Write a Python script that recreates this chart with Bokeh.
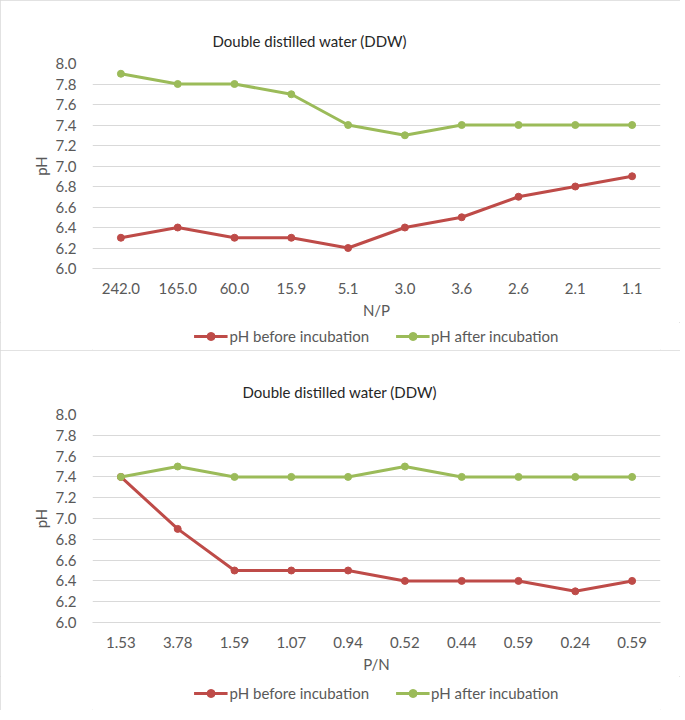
from bokeh.plotting import figure
from bokeh.layouts import column
from bokeh.models import FixedTicker, Range1d, PrintfTickFormatter
from bokeh.embed import file_html
from bokeh.resources import INLINE

# ---- data ----
title_text = "Double distilled water (DDW)"
series_names = ["pH before incubation", "pH after incubation"]
np_labels = ["242.0", "165.0", "60.0", "15.9", "5.1", "3.0", "3.6", "2.6", "2.1", "1.1"]
np_before = [6.3, 6.4, 6.3, 6.3, 6.2, 6.4, 6.5, 6.7, 6.8, 6.9]
np_after = [7.9, 7.8, 7.8, 7.7, 7.4, 7.3, 7.4, 7.4, 7.4, 7.4]

pn_labels = ["1.53", "3.78", "1.59", "1.07", "0.94", "0.52", "0.44", "0.59", "0.24", "0.59"]
pn_before = [7.4, 6.9, 6.5, 6.5, 6.5, 6.4, 6.4, 6.4, 6.3, 6.4]
pn_after = [7.4, 7.5, 7.4, 7.4, 7.4, 7.5, 7.4, 7.4, 7.4, 7.4]

y_ticks = [6.0, 6.2, 6.4, 6.6, 6.8, 7.0, 7.2, 7.4, 7.6, 7.8, 8.0]

RED = "#BE4B48"
GREEN = "#9BBB59"
COLORS = [RED, GREEN]
TXT = "#595959"
GRID = "#D9D9D9"
FONT = "Lato"
W = 680


def make_main(labels, before, after, xlabel, title_offset, height, top, bottom):
    xs = list(range(1, len(labels) + 1))
    p = figure(width=W, height=height, output_backend="svg", toolbar_location=None,
               x_range=Range1d(0.5, len(labels) + 0.5), y_range=Range1d(6.0, 8.0),
               title=title_text)
    p.outline_line_color = None
    p.min_border_left = 92
    p.min_border_right = 20
    p.min_border_top = top
    p.min_border_bottom = bottom

    p.title.text_font = FONT
    p.title.text_font_size = "15px"
    p.title.text_font_style = "normal"
    p.title.text_color = "#262626"
    p.title.align = "left"
    p.title.offset = title_offset
    p.title.standoff = 28

    p.xaxis.ticker = FixedTicker(ticks=xs)
    p.xaxis.major_label_overrides = {x: l for x, l in zip(xs, labels)}
    p.yaxis.ticker = FixedTicker(ticks=y_ticks)
    p.yaxis.formatter = PrintfTickFormatter(format="%.1f")
    for ax in (p.xaxis, p.yaxis):
        ax.major_tick_line_color = None
        ax.minor_tick_line_color = None
        ax.major_label_text_font = FONT
        ax.major_label_text_font_size = "15px"
        ax.major_label_text_color = TXT
        ax.axis_label_text_font = FONT
        ax.axis_label_text_font_size = "15px"
        ax.axis_label_text_font_style = "normal"
        ax.axis_label_text_color = TXT
    p.xaxis.axis_line_color = GRID
    p.yaxis.axis_line_color = None
    p.xaxis.major_label_standoff = 8
    p.yaxis.major_label_standoff = 10
    p.xaxis.axis_label_standoff = 4
    p.yaxis.axis_label_standoff = 3
    p.xaxis.axis_label = xlabel
    p.yaxis.axis_label = "pH"
    p.xgrid.grid_line_color = None
    p.ygrid.grid_line_color = GRID

    for vals, c in zip([before, after], COLORS):
        p.line(xs, vals, line_color=c, line_width=3)
        p.scatter(xs, vals, size=7, fill_color=c, line_color=c)
    return p


def make_legend(height, before, after):
    # legend-only strip: the series are drawn outside its visible range,
    # so only the legend swatches and labels show
    xs = list(range(1, len(before) + 1))
    p = figure(width=W, height=height, output_backend="svg", toolbar_location=None,
               x_range=Range1d(-10, -9), y_range=Range1d(0, 1),
               x_axis_type=None, y_axis_type=None)
    p.min_border = 0
    p.outline_line_color = None
    p.xgrid.grid_line_color = None
    p.ygrid.grid_line_color = None
    for name, vals, c in zip(series_names, [before, after], COLORS):
        p.line(xs, vals, line_color=c, line_width=3, legend_label=name)
        p.scatter(xs, vals, size=7, fill_color=c, line_color=c, legend_label=name)
    lg = p.legend[0]
    lg.orientation = "horizontal"
    lg.location = "center"
    lg.border_line_color = None
    lg.background_fill_alpha = 0
    lg.label_text_font = FONT
    lg.label_text_font_size = "15px"
    lg.label_text_color = TXT
    lg.glyph_width = 34
    lg.label_standoff = 2
    lg.spacing = 26
    lg.padding = 0
    lg.margin = 0
    return p


m1 = make_main(np_labels, np_before, np_after, "N/P", 120, 322, 63, 54)
l1 = make_legend(28, np_before, np_after)
m2 = make_main(pn_labels, pn_before, pn_after, "P/N", 150, 326, 64, 54)
l2 = make_legend(34, pn_before, pn_after)

panel1 = column(m1, l1, spacing=0)
panel2 = column(m2, l2, spacing=0)
panel1.styles = {"outline": "1px solid #D9D9D9", "outline-offset": "-1px"}
panel2.styles = {"outline": "1px solid #D9D9D9", "outline-offset": "-1px"}

layout = column(panel1, panel2, spacing=0)
open("out.html", "w").write(file_html(layout, INLINE))
